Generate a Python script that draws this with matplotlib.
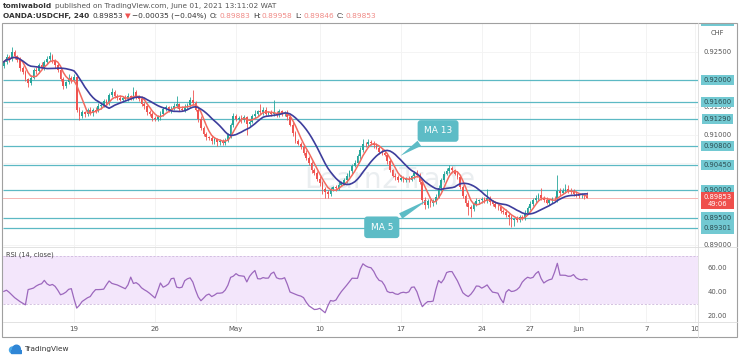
import numpy as np
import pandas as pd
import matplotlib
matplotlib.use('Agg')
import matplotlib.pyplot as plt
from matplotlib.patches import Rectangle, Circle
from matplotlib.transforms import offset_copy

W, H = 740, 357

'''data: USDCHF 4H bars, prices in pips above 0.89000'''

closes_pips = [
    333, 341, 338, 350, 343, 336, 322, 314, 301, 294,
    304, 318, 316, 327, 324, 333, 338, 344, 335, 327,
    318, 302, 289, 296, 304, 300, 305, 246, 234, 241,
    238, 245, 240, 246, 244, 252, 255, 261, 258, 272,
    279, 271, 268, 264, 268, 266, 270, 267, 278, 270,
    266, 256, 252, 241, 238, 230, 229, 232, 238, 247,
    250, 245, 248, 253, 256, 248, 246, 251, 255, 263,
    258, 246, 229, 213, 202, 196, 195, 190, 192, 188,
    189, 186, 190, 200, 219, 234, 229, 231, 227, 232,
    220, 224, 235, 239, 243, 241, 246, 239, 241, 238,
    240, 237, 243, 238, 240, 233, 219, 203, 190, 184,
    178, 168, 158, 149, 136, 131, 120, 112, 102, 96,
    93, 101, 105, 104, 110, 113, 118, 126, 134, 144,
    150, 162, 172, 184, 183, 188, 185, 181, 177, 170,
    168, 164, 152, 136, 126, 123, 119, 122, 118, 120,
    119, 125, 131, 128, 114, 82, 72, 80, 77, 79,
    88, 104, 119, 130, 135, 140, 136, 130, 124, 106,
    89, 76, 69, 66, 74, 80, 81, 83, 80, 86,
    78, 75, 70, 69, 62, 60, 55, 51, 46, 47,
    45, 51, 50, 59, 67, 74, 82, 86, 91, 85,
    82, 77, 81, 84, 83, 99, 95, 98, 101, 98,
    97, 93, 92, 89, 90, 88.3, 85.3,
]
open_first = 325

hi_ext = [
    4, 6, 5, 10, 4, 3, 5, 3, 4, 3,
    5, 3, 6, 4, 5, 4, 6, 6, 3, 4,
    3, 5, 4, 3, 6, 4, 5, 3, 4, 5,
    3, 4, 5, 3, 4, 6, 3, 4, 5, 4,
    7, 3, 4, 5, 3, 4, 6, 3, 10, 4,
    3, 5, 4, 3, 4, 3, 5, 4, 6, 4,
    5, 3, 4, 6, 15, 3, 4, 5, 4, 6,
    19, 3, 4, 5, 3, 4, 3, 5, 4, 3,
    4, 3, 5, 4, 3, 6, 4, 3, 5, 4,
    3, 5, 4, 6, 3, 14, 4, 5, 3, 4,
    24, 4, 5, 3, 4, 6, 3, 4, 5, 3,
    4, 3, 5, 4, 3, 4, 3, 5, 4, 3,
    4, 5, 3, 4, 6, 3, 4, 5, 3, 4,
    5, 4, 6, 8, 4, 5, 3, 4, 5, 3,
    4, 5, 3, 4, 3, 5, 4, 6, 3, 4,
    5, 3, 4, 5, 3, 4, 5, 3, 4, 5,
    4, 5, 3, 4, 5, 6, 4, 3, 5, 4,
    3, 4, 5, 3, 4, 5, 3, 4, 5, 15,
    4, 3, 5, 4, 3, 4, 5, 3, 4, 3,
    5, 4, 3, 5, 4, 6, 4, 5, 3, 12,
    4, 5, 3, 4, 5, 28, 4, 5, 10, 9,
    6, 4, 5, 3, 4, 3, 7.7,
]
lo_ext = [
    3, 4, 5, 3, 4, 3, 5, 4, 3, 6,
    4, 3, 5, 4, 3, 5, 4, 3, 4, 5,
    3, 4, 6, 3, 4, 5, 3, 4, 6, 3,
    5, 4, 3, 5, 4, 3, 4, 5, 3, 4,
    3, 4, 5, 3, 4, 3, 5, 4, 3, 4,
    5, 3, 4, 5, 3, 4, 4, 3, 5, 4,
    3, 4, 5, 3, 4, 5, 3, 4, 3, 4,
    4, 3, 5, 4, 3, 5, 4, 7, 6, 8,
    6, 5, 4, 3, 5, 4, 3, 4, 5, 3,
    20, 4, 3, 5, 4, 3, 4, 5, 3, 4,
    3, 4, 5, 3, 4, 5, 3, 4, 5, 3,
    4, 5, 3, 4, 5, 3, 4, 5, 9, 10,
    8, 4, 3, 5, 4, 3, 4, 5, 3, 4,
    3, 4, 5, 3, 4, 5, 3, 4, 3, 5,
    4, 3, 5, 4, 3, 4, 5, 3, 4, 3,
    4, 3, 5, 4, 3, 8, 7, 5, 8, 6,
    4, 3, 5, 4, 3, 4, 5, 3, 4, 5,
    4, 5, 14, 15, 4, 3, 5, 4, 3, 4,
    5, 4, 3, 5, 4, 3, 4, 15, 14, 12,
    4, 3, 5, 4, 3, 4, 3, 5, 4, 3,
    4, 3, 5, 4, 3, 4, 5, 3, 4, 3,
    4, 3, 5, 4, 3, 4, 0.7,
]

# RSI (14, close)
rsi_vals = [
    40.5, 41.5, 39.7, 37.5, 35.3, 33.6, 32.0, 30.6, 29.3, 42.0,
    42.6, 43.3, 45.0, 46.2, 46.9, 49.7, 46.8, 45.5, 46.3, 44.7,
    41.5, 37.7, 38.5, 39.9, 42.2, 42.8, 34.3, 26.6, 28.9, 32.1,
    33.7, 35.2, 36.2, 39.5, 42.0, 42.0, 42.1, 42.4, 46.0, 49.2,
    47.2, 46.5, 45.9, 44.8, 43.8, 42.7, 46.0, 52.4, 47.1, 47.8,
    46.2, 43.5, 41.9, 40.6, 38.9, 36.9, 35.0, 41.0, 47.5, 44.0,
    45.1, 46.8, 51.1, 51.5, 44.1, 43.5, 44.0, 49.4, 51.0, 51.8,
    48.3, 41.6, 35.9, 32.7, 34.9, 37.3, 38.3, 36.2, 37.4, 39.0,
    39.0, 39.4, 41.6, 45.7, 52.2, 53.2, 55.3, 53.7, 53.4, 53.1,
    48.4, 53.0, 55.8, 57.9, 51.1, 50.9, 52.0, 51.5, 51.6, 55.3,
    56.6, 51.9, 51.0, 51.0, 51.9, 46.5, 40.0, 39.0, 38.1, 37.2,
    36.6, 35.3, 31.5, 28.5, 26.9, 25.4, 25.6, 26.4, 24.6, 22.7,
    28.4, 32.9, 32.4, 33.3, 37.0, 40.3, 43.0, 45.7, 48.6, 51.5,
    51.4, 51.4, 59.0, 63.5, 61.8, 60.7, 60.2, 57.2, 52.7, 49.7,
    48.9, 45.6, 40.5, 39.5, 39.7, 38.4, 38.0, 39.3, 39.8, 39.3,
    40.1, 43.9, 44.2, 40.2, 33.5, 27.8, 30.2, 32.0, 32.0, 32.4,
    42.0, 49.6, 47.6, 50.8, 56.2, 57.0, 57.0, 53.2, 49.3, 44.3,
    39.4, 37.5, 36.2, 38.2, 41.2, 45.0, 44.8, 43.2, 44.4, 45.9,
    42.6, 39.9, 39.5, 39.0, 34.3, 31.0, 39.8, 42.0, 40.4, 40.8,
    41.9, 44.0, 48.2, 50.6, 52.3, 51.5, 52.2, 55.3, 57.1, 51.2,
    47.5, 49.1, 50.2, 50.8, 56.6, 63.9, 54.0, 54.0, 53.9, 53.1,
    53.2, 54.5, 51.8, 50.6, 50.1, 50.8, 50.2,
]

date_ticks = [26, 56, 86, 117, 147, 177, 195, 213, 238, 256]
date_labels = ['19', '26', 'May', '10', '17', '24', '27', 'Jun', '7', '10']

level_prices = [0.9307, 0.92, 0.916, 0.9129, 0.908, 0.9045, 0.90, 0.895, 0.89301]
level_labels = ['0.93070', '0.92000', '0.91600', '0.91290', '0.90800',
                '0.90450', '0.90000', '0.89500', '0.89301']
scale_prices = [0.925, 0.915, 0.91, 0.905, 0.89]
scale_labels = ['0.92500', '0.91500', '0.91000', '0.90500', '0.89000']
rsi_ticks = [60, 40, 20]

cur_price = 0.89853
countdown = '49:06'

'''derived series'''

close = 0.89 + np.array(closes_pips) / 1e4
open_ = np.r_[0.89 + open_first / 1e4, close[:-1]]
high = np.maximum(open_, close) + np.array(hi_ext) / 1e4
low = np.minimum(open_, close) - np.array(lo_ext) / 1e4
idx = np.arange(len(close))

ma5 = pd.Series(close).rolling(5, min_periods=1).mean().values
ma13 = pd.Series(close).rolling(13, min_periods=1).mean().values

'''figure'''

def fx(x):
    return x / W

def fy(y):
    return 1 - y / H

fig = plt.figure(figsize=(W / 100, H / 100), dpi=100)
fig.patch.set_facecolor('white')

L, R = 3, 698
TOP, MID, BOT, DBOT = 23, 247, 322, 337
SR = 737

ax = fig.add_axes([fx(L), fy(MID), fx(R - L), (MID - TOP) / H])
ax_r = fig.add_axes([fx(L), fy(BOT), fx(R - L), (BOT - MID) / H])
ax_d = fig.add_axes([fx(L), fy(DBOT), fx(R - L), (DBOT - BOT) / H])
ax_ps = fig.add_axes([fx(R), fy(MID), fx(SR - R), (MID - TOP) / H])
ax_rs = fig.add_axes([fx(R), fy(BOT), fx(SR - R), (BOT - MID) / H])

xlim = (-0.3, 257.1)
ylim = (0.88964, 0.93036)
rlim = (15, 77.5)

for a in (ax, ax_r, ax_d, ax_ps, ax_rs):
    a.set_axis_off()
for a in (ax, ax_r, ax_d):
    a.set_xlim(*xlim)
ax.set_ylim(*ylim)
ax_ps.set_ylim(*ylim)
ax_r.set_ylim(*rlim)
ax_rs.set_ylim(*rlim)
ax_d.set_ylim(0, 1)

teal_line = '#5cb9c4'
teal_box = '#72c9d2'
up_col = '#26a69a'
dn_col = '#ef5350'

# faint grid
ax.vlines(date_ticks, *ylim, color='#f1f1f1', lw=0.6, zorder=0)
ax.hlines(scale_prices, *xlim, color='#f3f3f3', lw=0.6, zorder=0)
ax_r.vlines(date_ticks, *rlim, color='#f1f1f1', lw=0.6, zorder=0)

# watermark
ax.text(0.557, 0.30, 'Learn2Trade', transform=ax.transAxes, fontsize=20,
        color='#e2e7eb', alpha=0.7, ha='center', va='center', zorder=0.5)

# support / resistance lines
ax.hlines(level_prices, *xlim, color=teal_line, lw=0.9, zorder=1)
ax.axhline(cur_price, color='#f4a9a7', lw=0.6, zorder=1)

# candles
colors = np.where(close >= open_, up_col, dn_col)
ax.vlines(idx, low, high, color=colors, lw=0.6, zorder=2)
body = np.abs(close - open_)
body = np.where(body < 0.00003, 0.00003, body)
ax.bar(idx, body, bottom=np.minimum(open_, close), width=0.62, color=colors,
       lw=0, zorder=2)

ax.plot(idx, ma5, color='#f26a5f', lw=1.1, zorder=3)
ax.plot(idx, ma13, color='#3d3d9c', lw=1.2, zorder=3)

# MA callouts
box = dict(boxstyle='round,pad=0.7,rounding_size=0.35', fc='#5dbcc6', ec='none')
ax.annotate('MA 13', xy=(146, ma13[146]), xytext=(0.626, 0.518),
            textcoords='axes fraction', ha='center', va='center', color='white',
            fontsize=6.5, bbox=box, zorder=5,
            arrowprops=dict(arrowstyle='wedge,tail_width=0.7,shrink_factor=0.5',
                            fc='#5dbcc6', ec='none'))
ax.annotate('MA 5', xy=(158, ma5[158]), xytext=(0.545, 0.088),
            textcoords='axes fraction', ha='center', va='center', color='white',
            fontsize=6.5, bbox=box, zorder=5,
            arrowprops=dict(arrowstyle='wedge,tail_width=0.7,shrink_factor=0.5',
                            fc='#5dbcc6', ec='none'))

# rsi pane
ax_r.axhspan(30, 70, color='#f3e6fb', lw=0, zorder=0)
ax_r.hlines([30, 70], *xlim, color='#cdb8dc', lw=0.6, linestyles=(0, (2.5, 2)), zorder=1)
ax_r.plot(idx, rsi_vals, color='#9c68bd', lw=0.9, zorder=3)
ax_r.text(0.004, 0.89, 'RSI (14, close)', transform=ax_r.transAxes, fontsize=4.8,
          color='#444444', ha='left', va='center')

# dates
for t, lab in zip(date_ticks, date_labels):
    ax_d.text(t, 0.55, lab, fontsize=5, color='#555555', ha='center', va='center',
              clip_on=True)

# price scale
yt = ax_ps.get_yaxis_transform()
for p, lab in zip(scale_prices, scale_labels):
    ax_ps.text(0.5, p, lab, transform=yt, fontsize=4.9, color='#555555',
               ha='center', va='center', clip_on=True)
for p, lab in zip(level_prices, level_labels):
    ax_ps.text(0.5, p, lab, transform=yt, fontsize=4.9, color='#2b4a4f',
               ha='center', va='center', clip_on=True,
               bbox=dict(boxstyle='square,pad=0.3', fc=teal_box, ec='none'))
ax_ps.text(0.5, 0.955, 'CHF', transform=ax_ps.transAxes, fontsize=4.9,
           color='#555555', ha='center', va='center')
ax_ps.text(0.5, cur_price, f'{cur_price:.5f}\n{countdown}',
           transform=offset_copy(yt, fig, y=4, units='dots'), fontsize=4.9,
           color='white', ha='center', va='top', linespacing=1.15, clip_on=True,
           bbox=dict(boxstyle='square,pad=0.35', fc='#ef4f4c', ec='none'))

yr = ax_rs.get_yaxis_transform()
for v in rsi_ticks:
    ax_rs.text(0.5, v, f'{v:.2f}', transform=yr, fontsize=4.9, color='#555555',
               ha='center', va='center')

# frame and separators
fig.add_artist(Rectangle((fx(2), fy(DBOT)), fx(SR - 2), (DBOT - TOP) / H,
                         transform=fig.transFigure, fill=False, ec='#a0a0a0', lw=0.8))
for (x0, y0, x1, y1) in [(R, TOP, R, DBOT), (L, MID, SR, MID), (L, BOT, SR, BOT)]:
    fig.add_artist(plt.Line2D([fx(x0), fx(x1)], [fy(y0), fy(y1)],
                              transform=fig.transFigure, color='#dddddd', lw=0.6))

# header
def chain(y, parts, x0=3):
    r = fig.canvas.get_renderer()
    x = x0
    for s, color, weight, gap in parts:
        t = fig.text(fx(x), fy(y), s, color=color, fontweight=weight, fontsize=5.3,
                     ha='left', va='center')
        x += t.get_window_extent(renderer=r).width + gap

dark = '#333333'
red = '#f08a86'
chain(6, [('tomiwabold', dark, 'bold', 3),
          ('published on TradingView.com, June 01, 2021 13:11:02 WAT', '#555555', 'normal', 0)])
chain(16, [('OANDA:USDCHF, 240', dark, 'bold', 3),
           ('0.89853', dark, 'normal', 2),
           ('\u25bc', '#ef5350', 'normal', 2),
           ('\u22120.00035 (\u22120.04%)', dark, 'normal', 3),
           ('O:', dark, 'normal', 1), ('0.89883', red, 'normal', 3),
           ('H:', dark, 'normal', 1), ('0.89958', red, 'normal', 3),
           ('L:', dark, 'normal', 1), ('0.89846', red, 'normal', 3),
           ('C:', dark, 'normal', 1), ('0.89853', red, 'normal', 0)])

# footer logo
ax_logo = fig.add_axes([fx(8), fy(355), fx(14), 12 / H])
ax_logo.set_xlim(0, 1.4)
ax_logo.set_ylim(0, 1.2)
ax_logo.set_aspect('equal')
ax_logo.set_axis_off()
ax_logo.add_patch(Circle((0.45, 0.5), 0.3, color='#4aa8e8'))
ax_logo.add_patch(Circle((0.85, 0.6), 0.38, color='#2f86d6'))
ax_logo.add_patch(Rectangle((0.3, 0.2), 0.95, 0.3, color='#2f86d6'))
fig.text(fx(24), fy(349), 'TradingView', fontsize=5.3, color='#333333',
         ha='left', va='center')

fig.savefig('out.png', dpi=100, facecolor='white')
